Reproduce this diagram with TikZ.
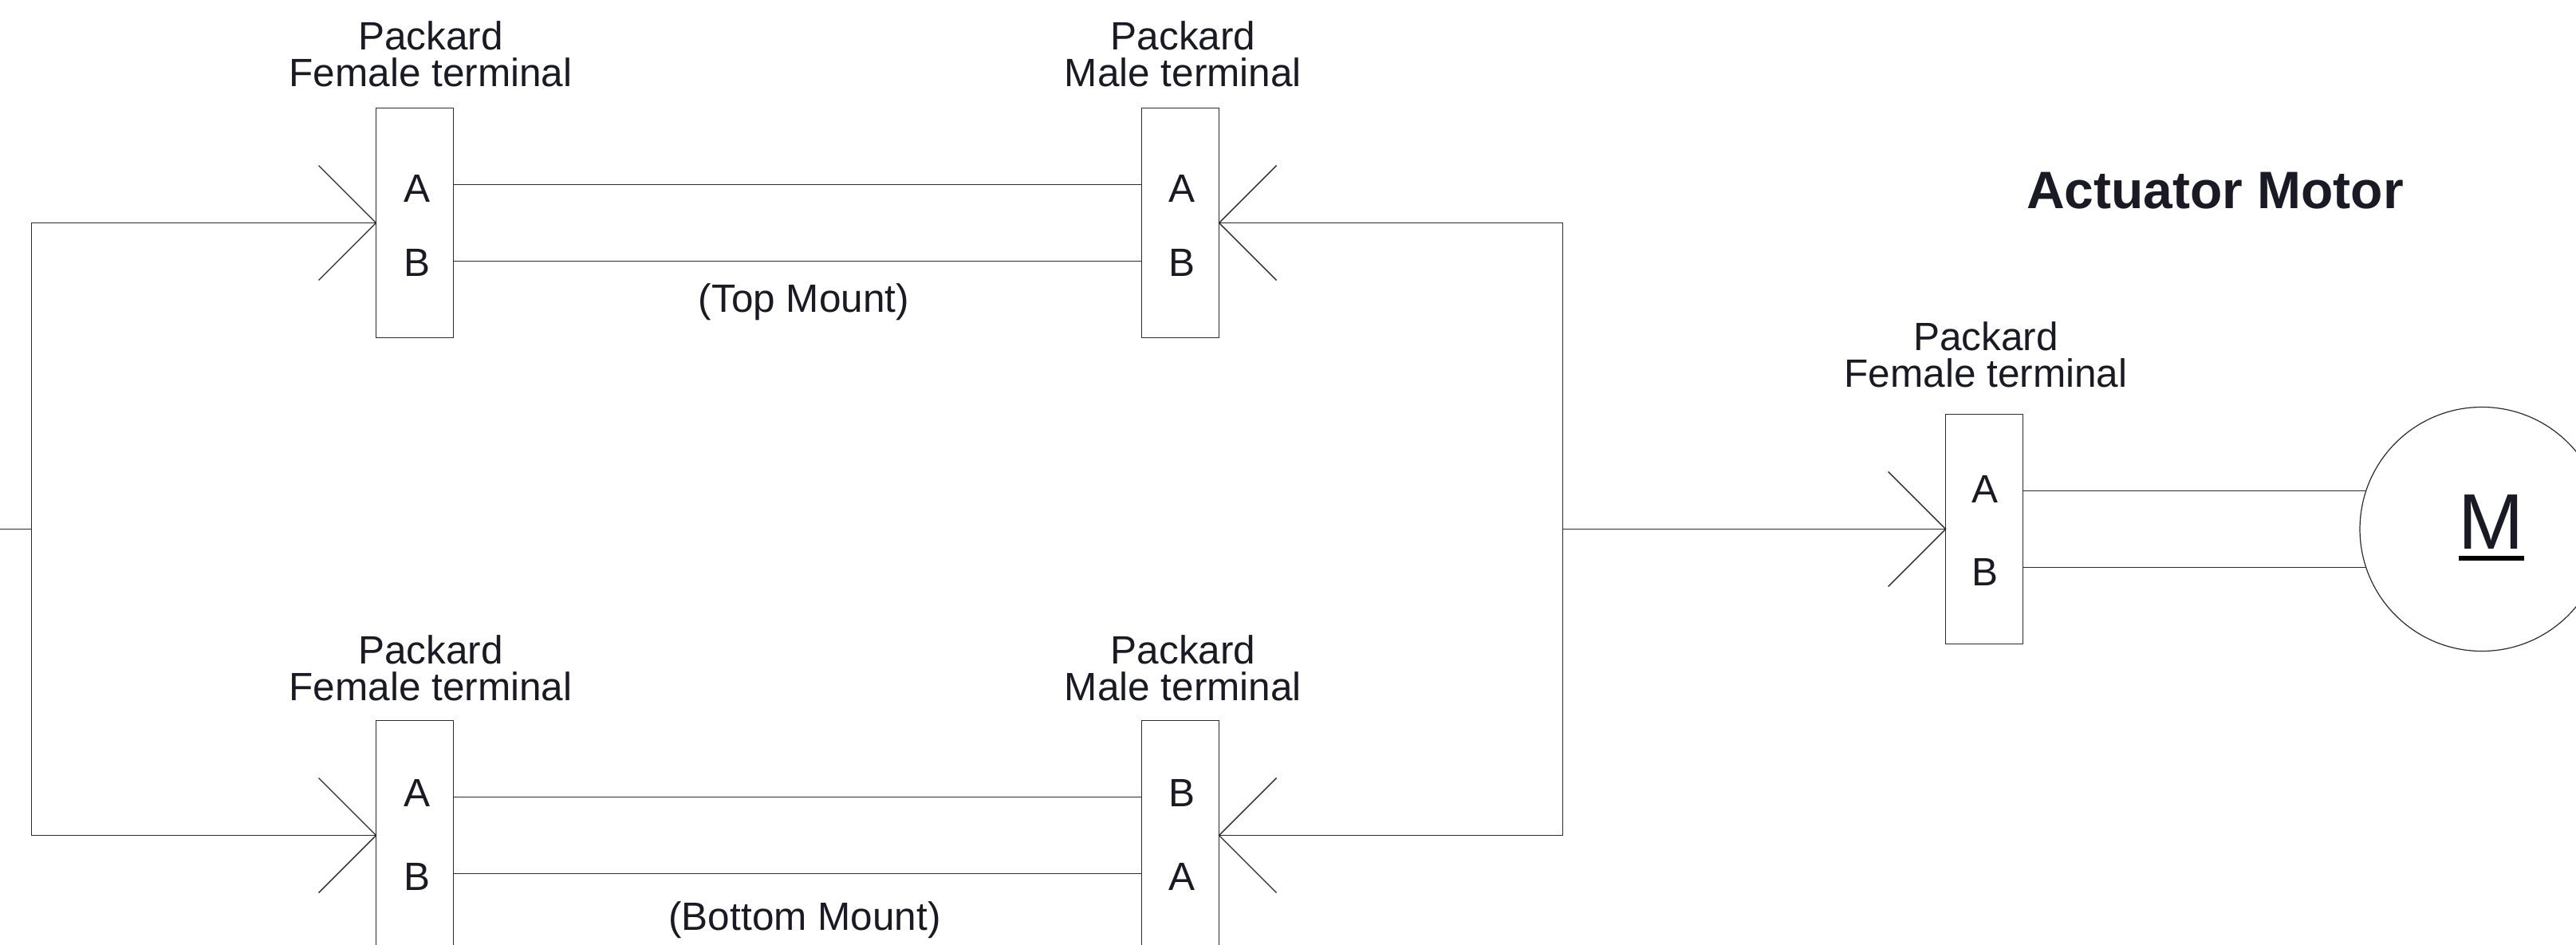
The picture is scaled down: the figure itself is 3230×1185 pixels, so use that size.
\documentclass[tikz,border=0pt]{standalone}
\usepackage{fontspec}
\setmainfont{Liberation Sans}
\usetikzlibrary{calc}
\definecolor{inkdark}{HTML}{1A1A24}
\definecolor{linedark}{HTML}{2A2A30}
\tikzset{
  terminal/.style={draw=linedark,rectangle,minimum height=288pt,minimum width=97pt,inner sep=0pt,outer sep=0pt,line width=1.4pt},
  motorbody/.style={draw=linedark,circle,minimum size=306pt,inner sep=0pt,outer sep=0pt,line width=1.2pt},
  wire/.style={draw=linedark,line width=1.4pt},
  pin/.style={anchor=base,inner sep=0pt,text=inkdark,font=\fontsize{49.5}{46}\selectfont},
  caption/.style={anchor=base,inner sep=0pt,text=inkdark,align=center,font=\fontsize{49.5}{46}\selectfont}
}
\begin{document}
\begin{tikzpicture}[x=1pt,y=-1pt]
\useasboundingbox (0,0) rectangle (3230,1185);
\clip (0,0) rectangle (3230,1185);

\draw node [terminal] at (520,279.5)(femaletop){};
\draw node [terminal] at (1480,279.5)(maletop){};
\draw node [terminal] at (520,1047.5)(femalebottom){};
\draw node [terminal] at (1480,1047.5)(malebottom){};
\draw node [terminal] at (2488,663.5)(actuator){};
\draw node [motorbody] at (3112,663.5)(motor){};

\coordinate (feedstub) at (0,663.5);
\coordinate (feedleft) at (39.5,663.5);
\coordinate (feedright) at (1959.5,663.5);
\coordinate (actuatorwireA) at ($ (actuator.east) + (0pt,48pt)$);
\coordinate (actuatorwireB) at ($ (actuator.east) - (0pt,48pt)$);

\draw node [caption] at ($ (femaletop.north) + (20pt,26.5pt)$)(femaletoplabel){Packard\\Female terminal};
\draw node [caption] at ($ (maletop.north) + (3.5pt,26.5pt)$)(maletoplabel){Packard\\Male terminal};
\draw node [caption] at ($ (femalebottom.north) + (20pt,24.7pt)$)(femalebottomlabel){Packard\\Female terminal};
\draw node [caption] at ($ (malebottom.north) + (3.5pt,24.7pt)$)(malebottomlabel){Packard\\Male terminal};
\draw node [caption] at ($ (actuator.north) + (2pt,34pt)$)(actuatorlabel){Packard\\Female terminal};

\draw node [pin] at ($ (femaletop) + (3pt,26.5pt)$)(femaletopA){A};
\draw node [pin] at ($ (femaletop) + (3pt,-67pt)$)(femaletopB){B};
\draw node [pin] at ($ (maletop) + (1.75pt,26.5pt)$)(maletopA){A};
\draw node [pin] at ($ (maletop) + (1.75pt,-67pt)$)(maletopB){B};
\draw node [pin] at ($ (femalebottom) + (3pt,36pt)$)(femalebottomA){A};
\draw node [pin] at ($ (femalebottom) + (3pt,-68.5pt)$)(femalebottomB){B};
\draw node [pin] at ($ (malebottom) + (1.75pt,36pt)$)(malebottomB){B};
\draw node [pin] at ($ (malebottom) + (1.75pt,-68.5pt)$)(malebottomA){A};
\draw node [pin] at ($ (actuator) + (.7pt,33pt)$)(actuatorA){A};
\draw node [pin] at ($ (actuator) + (.7pt,-71pt)$)(actuatorB){B};

\draw node [caption] at ($ (femaletop.east) + (439.5pt,-112pt)$)(topmount){(Top Mount)};
\draw node [caption] at ($ (femalebottom.east) + (440.5pt,-119pt)$)(bottommount){(Bottom Mount)};
\draw node [caption,font=\fontsize{66}{70}\selectfont\bfseries] at (2777.5,261)(title){Actuator Motor};
\draw node [pin,font=\fontsize{98.7}{100}\selectfont] at ($ (motor) + (12pt,-24.5pt)$)(motorM){\rlap{\color{black}\rule[-14.7pt]{82pt}{5.7pt}}M};

\draw[wire] ($ (femaletop.east) + (0pt,48pt)$) -- ($ (maletop.west) + (0pt,48pt)$);
\draw[wire] ($ (femaletop.east) - (0pt,48pt)$) -- ($ (maletop.west) - (0pt,48pt)$);
\draw[wire] ($ (femalebottom.east) + (0pt,48pt)$) -- ($ (malebottom.west) + (0pt,48pt)$);
\draw[wire] ($ (femalebottom.east) - (0pt,48pt)$) -- ($ (malebottom.west) - (0pt,48pt)$);
\draw[wire] (actuatorwireA) -- (actuatorwireA -| motor.161.72);
\draw[wire] (actuatorwireB) -- (actuatorwireB -| motor.198.28);

\draw[wire] (feedstub) -- (feedleft);
\draw[wire] (femaletop.west) -| (feedleft) |- (femalebottom.west);
\draw[wire] (maletop.east) -| (feedright) |- (malebottom.east);
\draw[wire] (feedright) -- (actuator.west);

\draw[wire] ($ (femaletop.west) + (-72pt,72pt)$) -- (femaletop.west) -- ($ (femaletop.west) + (-72pt,-72pt)$);
\draw[wire] ($ (femalebottom.west) + (-72pt,72pt)$) -- (femalebottom.west) -- ($ (femalebottom.west) + (-72pt,-72pt)$);
\draw[wire] ($ (actuator.west) + (-72pt,72pt)$) -- (actuator.west) -- ($ (actuator.west) + (-72pt,-72pt)$);
\draw[wire] ($ (maletop.east) + (72pt,72pt)$) -- (maletop.east) -- ($ (maletop.east) + (72pt,-72pt)$);
\draw[wire] ($ (malebottom.east) + (72pt,72pt)$) -- (malebottom.east) -- ($ (malebottom.east) + (72pt,-72pt)$);

\end{tikzpicture}
\end{document}
